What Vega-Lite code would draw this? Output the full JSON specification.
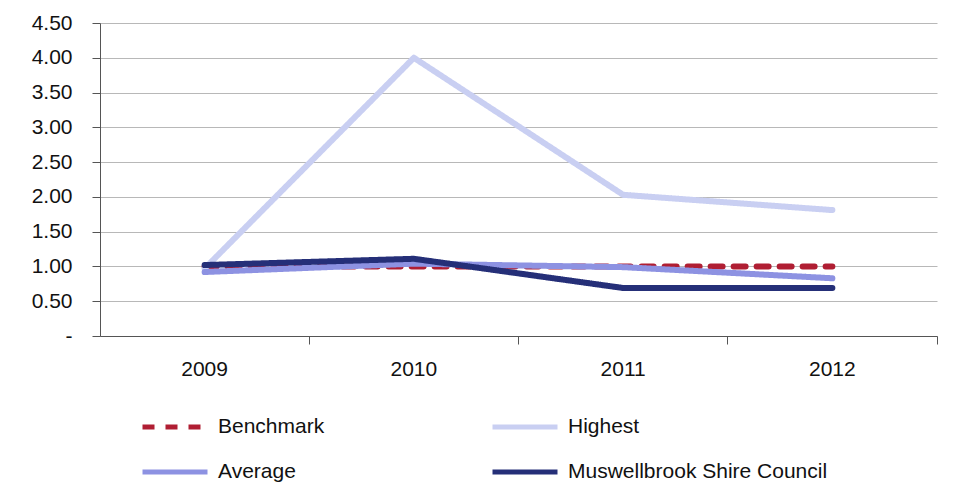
{
  "$schema": "https://vega.github.io/schema/vega-lite/v6.json",
  "autosize": {"type": "none"},
  "width": 837,
  "height": 313,
  "padding": {"left": 100, "top": 23, "right": 19, "bottom": 163},
  "background": "white",
  "config": {
    "font": "Liberation Sans",
    "view": {"stroke": null}
  },
  "data": {
    "values": [
      {"year": "2009", "series": "Benchmark", "value": 1.0},
      {"year": "2010", "series": "Benchmark", "value": 1.0},
      {"year": "2011", "series": "Benchmark", "value": 1.0},
      {"year": "2012", "series": "Benchmark", "value": 1.0},
      {"year": "2009", "series": "Highest", "value": 0.97},
      {"year": "2010", "series": "Highest", "value": 4.0},
      {"year": "2011", "series": "Highest", "value": 2.03},
      {"year": "2012", "series": "Highest", "value": 1.81},
      {"year": "2009", "series": "Average", "value": 0.92},
      {"year": "2010", "series": "Average", "value": 1.04},
      {"year": "2011", "series": "Average", "value": 0.99},
      {"year": "2012", "series": "Average", "value": 0.83},
      {"year": "2009", "series": "Muswellbrook Shire Council", "value": 1.02},
      {"year": "2010", "series": "Muswellbrook Shire Council", "value": 1.11},
      {"year": "2011", "series": "Muswellbrook Shire Council", "value": 0.69},
      {"year": "2012", "series": "Muswellbrook Shire Council", "value": 0.69}
    ]
  },
  "mark": {"type": "line", "strokeWidth": 6, "strokeCap": "round", "strokeJoin": "round"},
  "encoding": {
    "x": {
      "field": "year",
      "type": "ordinal",
      "scale": {"type": "band", "paddingInner": 0, "paddingOuter": 0},
      "axis": {
        "title": null,
        "labelAngle": 0,
        "labelFontSize": 21,
        "labelColor": "#111",
        "labelPadding": 14,
        "bandPosition": 1,
        "domainColor": "#555",
        "tickColor": "#555",
        "tickSize": 8,
        "grid": false
      }
    },
    "y": {
      "field": "value",
      "type": "quantitative",
      "scale": {"domain": [0, 4.5], "nice": false},
      "axis": {
        "title": null,
        "values": [0, 0.5, 1, 1.5, 2, 2.5, 3, 3.5, 4, 4.5],
        "labelExpr": "datum.value == 0 ? '-\u00a0\u00a0\u00a0' : format(datum.value, '.2f')",
        "labelFontSize": 21,
        "labelColor": "#111",
        "labelPadding": 20,
        "domainColor": "#555",
        "tickColor": "#555",
        "tickSize": 8,
        "gridColor": "#b8b8b8",
        "gridWidth": 1
      }
    },
    "color": {
      "field": "series",
      "type": "nominal",
      "scale": {
        "domain": ["Benchmark", "Highest", "Average", "Muswellbrook Shire Council"],
        "range": ["#B01E33", "#C9CFF2", "#8D92E2", "#252F78"]
      },
      "legend": {
        "title": null,
        "orient": "none",
        "legendX": 40,
        "legendY": 369,
        "columns": 2,
        "direction": "horizontal",
        "symbolType": "stroke",
        "symbolSize": 4225,
        "symbolStrokeWidth": 5,
        "labelFontSize": 21,
        "labelColor": "#111",
        "labelOffset": 8,
        "columnPadding": 157,
        "rowPadding": -28,
        "labelLimit": 400
      }
    },
    "strokeDash": {
      "field": "series",
      "type": "nominal",
      "scale": {
        "domain": ["Benchmark", "Highest", "Average", "Muswellbrook Shire Council"],
        "range": [[12, 11], [1, 0], [1, 0], [1, 0]]
      },
      "legend": null
    },
    "order": {"field": "series"}
  }
}
